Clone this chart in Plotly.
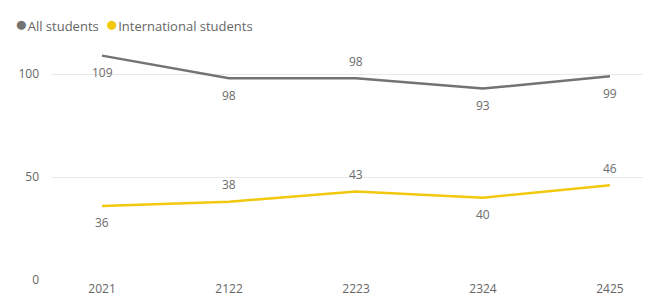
import plotly.graph_objects as go

categories = ["2021", "2122", "2223", "2324", "2425"]
all_students = [109, 98, 98, 93, 99]
intl_students = [36, 38, 43, 40, 46]
# label placement: +1 above the point, -1 below
all_label_side = [-1, -1, 1, -1, -1]
intl_label_side = [-1, 1, 1, -1, 1]

GRAY = "#737373"
YELLOW = "#F2C80F"
LABEL = "#6B6B6B"
FONT = "Open Sans, Noto Sans, sans-serif"

# page body has an 8px margin; figure is sized to fill the rest of the window
W, H = 643, 291
L, R, T, B = 44, 0, 25, 19
plot_h = H - T - B
plot_w = W - L - R

xs = list(range(len(categories)))

fig = go.Figure()
fig.add_trace(go.Scatter(x=xs, y=all_students, mode="lines", name="All students",
                         line=dict(color=GRAY, width=2.5), showlegend=False,
                         hoverinfo="x+y"))
fig.add_trace(go.Scatter(x=xs, y=intl_students, mode="lines", name="International students",
                         line=dict(color=YELLOW, width=2.5), showlegend=False,
                         hoverinfo="x+y"))

annotations = []
for series, sides in ((all_students, all_label_side), (intl_students, intl_label_side)):
    for x, v, s in zip(xs, series, sides):
        annotations.append(dict(x=x, y=v, xref="x", yref="y", text=str(v), showarrow=False,
                                yshift=17 * s, font=dict(size=12, color=LABEL, family=FONT)))

# legend drawn as text with coloured circles
legend_text = (f"<span style='color:{GRAY};font-size:21px'>●</span>"
               f"<span style='color:#666666'>All students  </span>"
               f"<span style='color:{YELLOW};font-size:21px'>●</span>"
               f"<span style='color:#666666'>International students</span>")
annotations.append(dict(x=(5 - L) / plot_w, y=(H - B - 15) / plot_h, xref="paper", yref="paper",
                        xanchor="left", yanchor="middle", text=legend_text, showarrow=False,
                        font=dict(size=13, family=FONT)))

fig.update_layout(
    width=W, height=H,
    margin=dict(l=L, r=R, t=T, b=B, autoexpand=False),
    paper_bgcolor="white", plot_bgcolor="white",
    font=dict(family=FONT, size=12, color="#666666"),
    showlegend=False,
    annotations=annotations,
    xaxis=dict(range=[-0.394, 4.323], tickmode="array", tickvals=xs, ticktext=categories,
               showgrid=False, zeroline=False, showline=False, ticks="",
               tickfont=dict(size=12, color="#666666")),
    yaxis=dict(range=[0, 120], tickvals=[0, 50, 100], showgrid=True, gridcolor="#E9E9E9",
               gridwidth=1, zeroline=False, ticks="", ticklabelstandoff=12,
               tickfont=dict(size=12, color="#666666")),
)
fig.write_html("out.html")
